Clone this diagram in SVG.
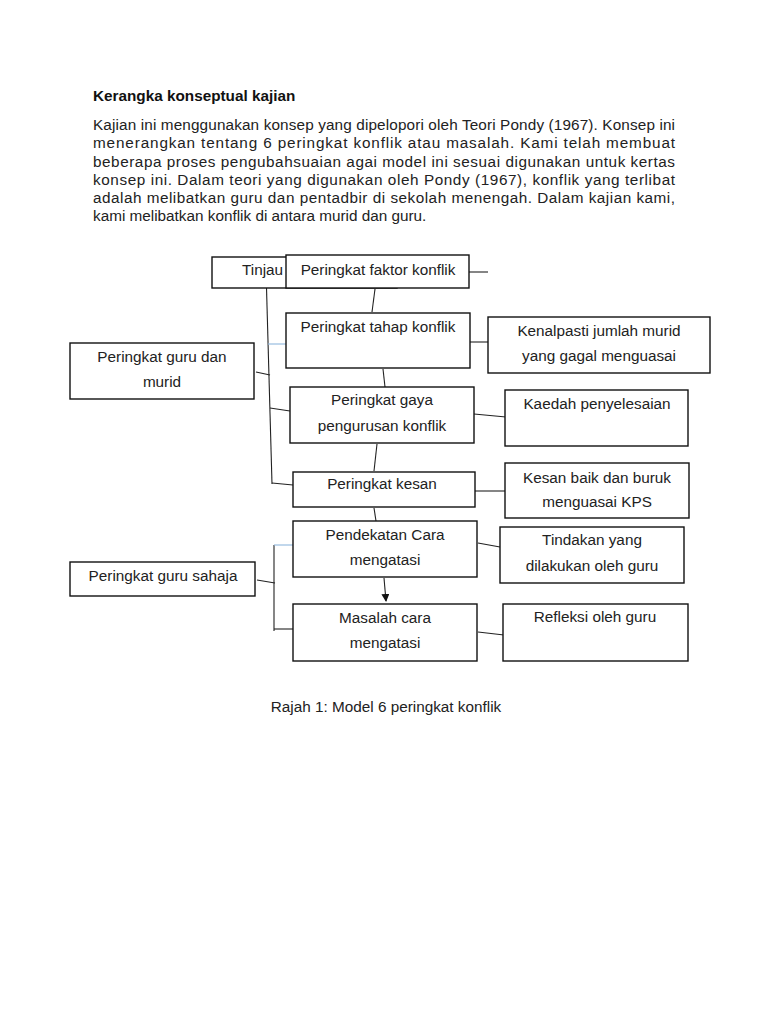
<svg xmlns="http://www.w3.org/2000/svg" width="768" height="1024" viewBox="0 0 768 1024">
<style>
text{font-family:"Liberation Sans",Arial,sans-serif;font-size:15.3px;fill:#222}
.t{font-weight:bold;fill:#111}
.box{fill:#fff;stroke:#111;stroke-width:1.4}
.c{text-anchor:middle}
.ln{stroke:#222;stroke-width:1.1;fill:none}
.bl{stroke:#8fb6dc;stroke-width:1.1;fill:none}
</style>
<defs>
<marker id="ah" markerWidth="8" markerHeight="8" refX="7" refY="4" orient="auto" markerUnits="userSpaceOnUse">
<path d="M0,0 L8,4 L0,8 Z" fill="#111"/>
</marker>
</defs>
<rect width="768" height="1024" fill="#fff"/>
<g id="heading">
<text class="t" x="93" y="101">Kerangka konseptual kajian</text>
<text x="93" y="130" textLength="582" lengthAdjust="spacing">Kajian ini menggunakan konsep yang dipelopori oleh Teori Pondy (1967). Konsep ini</text>
<text x="93" y="148" textLength="582" lengthAdjust="spacing">menerangkan tentang 6 peringkat konflik atau masalah. Kami telah membuat</text>
<text x="93" y="167" textLength="582" lengthAdjust="spacing">beberapa proses pengubahsuaian agai model ini sesuai digunakan untuk kertas</text>
<text x="93" y="185" textLength="582" lengthAdjust="spacing">konsep ini. Dalam teori yang digunakan oleh Pondy (1967), konflik yang terlibat</text>
<text x="93" y="203" textLength="582" lengthAdjust="spacing">adalah melibatkan guru dan pentadbir di sekolah menengah. Dalam kajian kami,</text>
<text x="93" y="221">kami melibatkan konflik di antara murid dan guru.</text>
</g>
<g id="connectors">
<line class="ln" x1="266" y1="270" x2="272" y2="484"/>
<line class="bl" x1="268" y1="280" x2="290" y2="284"/>
<line class="bl" x1="268" y1="344" x2="288" y2="344"/>
<line class="ln" x1="256" y1="372" x2="270" y2="375"/>
<line class="ln" x1="270" y1="408" x2="290" y2="411"/>
<line class="ln" x1="272" y1="483" x2="293" y2="485"/>
<line class="ln" x1="469" y1="272" x2="488" y2="272"/>
<line class="ln" x1="375" y1="289" x2="372" y2="312"/>
<line class="ln" x1="470" y1="342" x2="488" y2="342"/>
<line class="ln" x1="383" y1="369" x2="385" y2="387"/>
<line class="ln" x1="474" y1="414" x2="506" y2="417"/>
<line class="ln" x1="377" y1="444" x2="374" y2="471"/>
<line class="ln" x1="475" y1="491" x2="505" y2="491"/>
<line class="ln" x1="374" y1="508" x2="376" y2="521"/>
<line class="ln" x1="478" y1="543" x2="500" y2="547"/>
<line class="ln" x1="384" y1="578" x2="386" y2="601" marker-end="url(#ah)"/>
<line class="ln" x1="478" y1="632" x2="504" y2="635"/>
<line class="ln" x1="274" y1="545" x2="274" y2="631"/>
<line class="bl" x1="274" y1="545" x2="293" y2="545"/>
<line class="ln" x1="274" y1="629" x2="294" y2="629"/>
<line class="ln" x1="257" y1="580" x2="275" y2="583"/>
</g>
<g id="tinjau">
<rect class="box" x="212" y="257" width="185" height="31"/>
<text x="242" y="275">Tinjau</text>
</g>
<g id="faktor">
<rect class="box" x="286" y="255" width="183" height="33"/>
<text class="c" x="378" y="275">Peringkat faktor konflik</text>
</g>
<g id="tahap">
<rect class="box" x="286" y="313" width="184" height="55"/>
<text class="c" x="378" y="332">Peringkat tahap konflik</text>
</g>
<g id="kenalpasti">
<rect class="box" x="488" y="317" width="222" height="56"/>
<text class="c" x="599" y="336">Kenalpasti jumlah murid</text>
<text class="c" x="599" y="361">yang gagal menguasai</text>
</g>
<g id="gurumurid">
<rect class="box" x="70" y="343" width="184" height="56"/>
<text class="c" x="162" y="362">Peringkat guru dan</text>
<text class="c" x="162" y="387">murid</text>
</g>
<g id="gaya">
<rect class="box" x="290" y="387" width="184" height="56"/>
<text class="c" x="382" y="405">Peringkat gaya</text>
<text class="c" x="382" y="431">pengurusan konflik</text>
</g>
<g id="kaedah">
<rect class="box" x="505" y="390" width="183" height="56"/>
<text class="c" x="597" y="409">Kaedah penyelesaian</text>
</g>
<g id="kesan">
<rect class="box" x="293" y="472" width="182" height="35"/>
<text class="c" x="382" y="489">Peringkat kesan</text>
</g>
<g id="kesanbaik">
<rect class="box" x="505" y="463" width="184" height="55"/>
<text class="c" x="597" y="483">Kesan baik dan buruk</text>
<text class="c" x="597" y="507">menguasai KPS</text>
</g>
<g id="pendekatan">
<rect class="box" x="293" y="521" width="184" height="56"/>
<text class="c" x="385" y="540">Pendekatan Cara</text>
<text class="c" x="385" y="565">mengatasi</text>
</g>
<g id="tindakan">
<rect class="box" x="500" y="527" width="184" height="56"/>
<text class="c" x="592" y="545">Tindakan yang</text>
<text class="c" x="592" y="571">dilakukan oleh guru</text>
</g>
<g id="gurusahaja">
<rect class="box" x="70" y="562" width="185" height="34"/>
<text class="c" x="163" y="581">Peringkat guru sahaja</text>
</g>
<g id="masalah">
<rect class="box" x="293" y="604" width="184" height="57"/>
<text class="c" x="385" y="623">Masalah cara</text>
<text class="c" x="385" y="648">mengatasi</text>
</g>
<g id="refleksi">
<rect class="box" x="503" y="604" width="185" height="57"/>
<text class="c" x="595" y="622">Refleksi oleh guru</text>
</g>
<g id="caption">
<text class="c" x="386" y="712">Rajah 1: Model 6 peringkat konflik</text>
</g>
</svg>
